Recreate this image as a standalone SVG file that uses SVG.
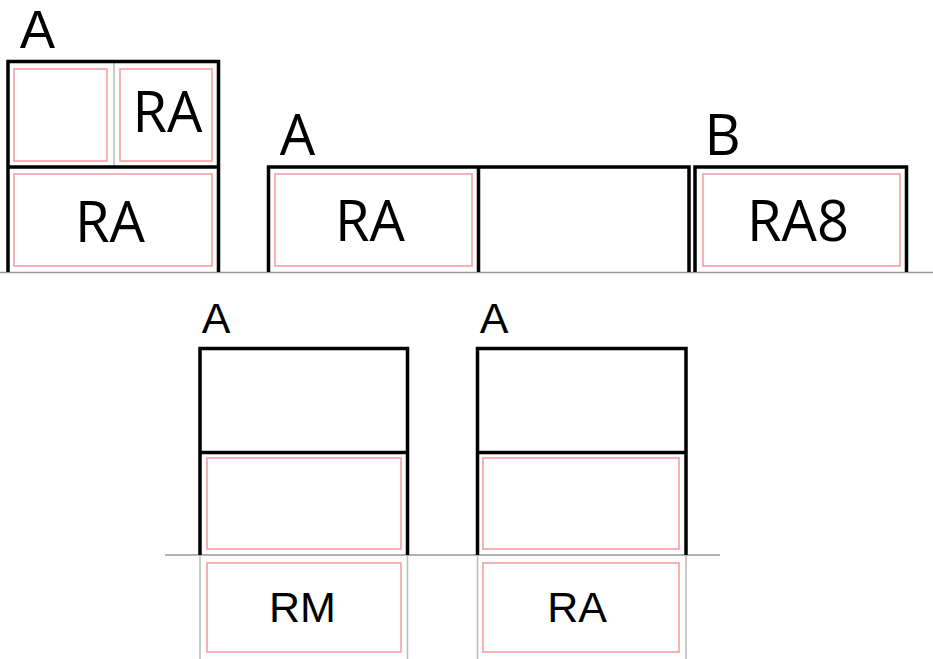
<svg xmlns="http://www.w3.org/2000/svg" width="933" height="659" viewBox="0 0 933 659">
<style>
.wall{fill:none;stroke:#000;stroke-width:3.5;stroke-linejoin:miter}
.red{fill:none;stroke:#f3a0a4;stroke-width:1.6}
.gray{fill:none;stroke:#bdbdbd;stroke-width:1.6}
.ground{fill:none;stroke:#9a9a9a;stroke-width:1.5}
.t1{font-family:"Open Sans","Liberation Sans",sans-serif;font-size:56px;fill:#000;text-anchor:middle}
.t0{font-family:"Liberation Sans",Arial,sans-serif;font-size:53px;fill:#000;text-anchor:middle}
.t2{font-family:"Liberation Sans",Arial,sans-serif;font-size:43px;fill:#000;text-anchor:middle}
</style>
<rect width="933" height="659" fill="#fff"/>
<g id="ground">
<path class="ground" d="M0,272.5 H933"/>
<path class="ground" d="M165,555 H720"/>
</g>
<g id="node-top-left">
<text class="t0" x="37.5" y="48">A</text>
<path class="gray" d="M114,63 V166"/>
<rect class="red" x="14" y="69" width="93" height="92"/>
<rect class="red" x="120" y="69" width="92" height="92"/>
<rect class="red" x="14" y="174" width="198" height="92"/>
<path class="wall" d="M8,272 V61.5 H218.5 V272 M8,167 H218.5"/>
<text class="t1" x="167.5" y="132">RA</text>
<text class="t1" x="110" y="242">RA</text>
</g>
<g id="node-top-middle">
<text class="t1" x="297.5" y="155">A</text>
<rect class="red" x="275" y="174" width="197" height="92"/>
<path class="wall" d="M268.5,272 V167 H689 V272 M478.5,167 V272"/>
<text class="t1" x="370" y="241">RA</text>
</g>
<g id="node-top-right">
<text class="t1" x="722.5" y="155">B</text>
<rect class="red" x="703" y="174" width="197" height="92"/>
<path class="wall" d="M695,272 V167 H906.5 V272"/>
<text class="t1" x="798" y="241">RA8</text>
</g>
<g id="node-bottom-left">
<text class="t2" x="216" y="333">A</text>
<rect class="red" x="207" y="458" width="194" height="91"/>
<rect class="red" x="207" y="563" width="194" height="89"/>
<path class="gray" d="M200,555 V659 M407.5,555 V659"/>
<path class="wall" d="M200,555 V348.5 H407.5 V555 M200,452.5 H407.5"/>
<text class="t2" x="302.5" y="622">RM</text>
</g>
<g id="node-bottom-right">
<text class="t2" x="494" y="333">A</text>
<rect class="red" x="483" y="458" width="196" height="91"/>
<rect class="red" x="483" y="563" width="196" height="89"/>
<path class="gray" d="M477.5,555 V659 M686,555 V659"/>
<path class="wall" d="M477.5,555 V348.5 H686 V555 M477.5,452.5 H686"/>
<text class="t2" x="577" y="622">RA</text>
</g>
</svg>
